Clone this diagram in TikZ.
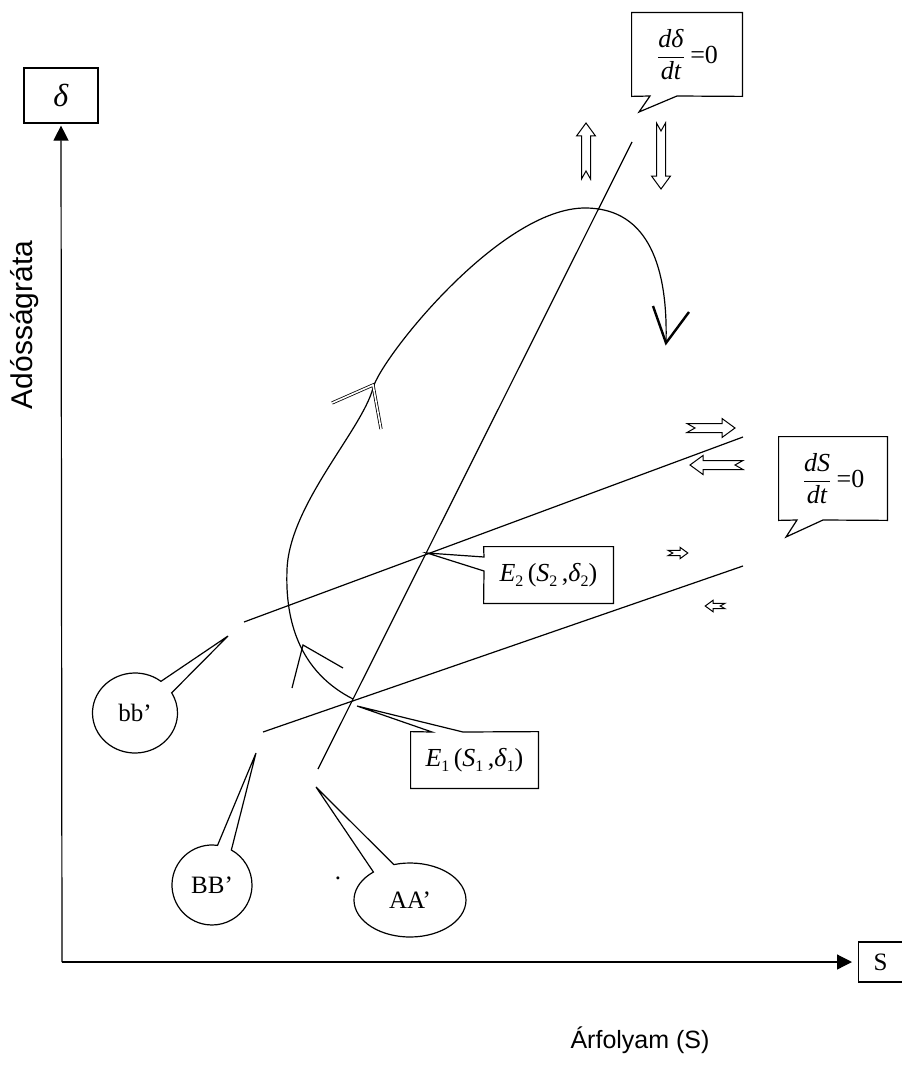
\documentclass[tikz,border=0pt]{standalone}
\usepackage{amsmath}
\usepackage{fontspec}
\setmainfont{Liberation Serif}
\newfontfamily\arialfont{Liberation Sans}
\usetikzlibrary{arrows.meta,shapes.geometric,shapes.callouts}

% lowered index in the text font
\newcommand{\lowidx}[1]{\raisebox{-0.45ex}{\fontsize{8}{8}\selectfont #1}}

\tikzset{
  % hollow block arrow with a notched tail, drawn along +x
  pics/fatarrow/.style={code={
    \draw[line width=0.5pt, fill=white] (0,-4.5) -- ({#1-13},-4.5) -- ({#1-13},-9.5) -- (#1,0)
      -- ({#1-13},9.5) -- ({#1-13},4.5) -- (0,4.5) -- (8,0) -- cycle;
  }}
}

\begin{document}
\begin{tikzpicture}[x=0.5pt, y=-0.5pt,
        every node/.style={inner sep=0pt, font=\fontsize{12.5}{14}\selectfont},
        axis/.style={line width=0.6pt, -{Triangle[width=7.5pt,length=7.5pt]}},
        thinline/.style={line width=0.6pt},
        boxed/.style={draw, line width=0.6pt},
        bubble/.style={ellipse callout, draw, line width=0.6pt},
        formula/.style={font=\fontsize{13}{15}\selectfont},
        label/.style={font=\arialfont\fontsize{12.5}{14}\selectfont}
        ]
    \useasboundingbox (0,0) rectangle (901,1065);

    % Axes
    \coordinate (origin) at (62,962);
    \node[boxed, minimum width=37pt, minimum height=27.5pt, font=\fontsize{16}{18}\selectfont]
        (dbox) at (61,95.5) {\textit{δ}};
    \node[boxed, minimum width=22pt, minimum height=20pt, anchor=west] (sbox) at (858,962) {S};
    \draw[axis, shorten >=1pt] (origin) -- (dbox.south);
    \draw[axis, shorten >=3pt] (origin) -- (sbox.west);
    \node[label, rotate=90, font=\arialfont\fontsize{15}{17}\selectfont] (ylab) at (25,325) {Adósságráta};
    \node[label] (xlab) at (640,1040) {Árfolyam (S)};

    % Curves AA', BB' and bb'
    \coordinate (a1) at (318,769);
    \coordinate (a2) at (632,142);
    \coordinate (b1) at (263,732);
    \coordinate (b2) at (743,566);
    \coordinate (c1) at (244,622);
    \coordinate (c2) at (743,437);
    \coordinate (e1) at (353,700);
    \coordinate (e2) at (427,553);
    \draw[thinline] (a1) -- (a2);
    \draw[thinline] (b1) -- (b2);
    \draw[thinline] (c1) -- (c2);

    % Adjustment path
    \draw[thinline] (353,699) .. controls (300,672) and (285,622) .. (287,570)
        .. controls (289,505) and (362,430) .. (373,388)
        .. controls (381,358) and (500,208) .. (585,208)
        .. controls (650,208) and (668,270) .. (666,343);
    \draw[line width=0.4pt, double, double distance=0.8pt] (332,403) -- (373,385) -- (381,429);
    \draw[thinline] (292,688) -- (303,645) -- (343,668);
    \draw[line width=1.2pt] (653,306) -- (666,343) -- (689,312);

    % Moving directions
    \pic[rotate=90] at (586,179) {fatarrow=56};
    \pic[rotate=-90] at (661,123) {fatarrow=66};
    \pic at (687,428) {fatarrow=48};
    \pic[rotate=180] at (743,465) {fatarrow=53};
    \pic[scale=0.6] at (668,553) {fatarrow=33};
    \pic[rotate=180, scale=0.6] at (725,606) {fatarrow=33};

    % Rectangular callouts
    \node[formula, minimum width=55pt, minimum height=41.5pt] (ddt) at (687,54.5)
        {$\dfrac{\textit{dδ}}{\textit{dt}}$\,=0};
    \draw[thinline] (ddt.north west) -- (ddt.north east) -- (ddt.south east) -- (677,96)
        -- (639,112) -- (650,96) -- (ddt.south west) -- cycle;
    \node[formula, minimum width=54pt, minimum height=41.5pt] (dsdt) at (833,478.5)
        {$\dfrac{\textit{dS}}{\textit{dt}}$\,=0};
    \draw[thinline] (dsdt.north west) -- (dsdt.north east) -- (dsdt.south east) -- (823,520)
        -- (786,537) -- (797,520) -- (dsdt.south west) -- cycle;
    \node[formula, minimum width=64.5pt, minimum height=28pt] (eq2) at (548.5,575)
        {\textit{E}\lowidx{2}\,(\textit{S}\lowidx{2}\,,\textit{δ}\lowidx{2})};
    \draw[thinline] (eq2.north west) -- (eq2.north east) -- (eq2.south east) -- (eq2.south west)
        -- (484,571) -- (e2) -- (484,557) -- cycle;
    \node[formula, minimum width=63.5pt, minimum height=28pt] (eq1) at (474.5,760)
        {\textit{E}\lowidx{1}\,(\textit{S}\lowidx{1}\,,\textit{δ}\lowidx{1})};
    \draw[thinline] (eq1.north west) -- (432,732) -- (357,706) -- (463,732) -- (eq1.north east)
        -- (eq1.south east) -- (eq1.south west) -- cycle;

    % Round callouts
    \node[bubble, minimum width=42.5pt, minimum height=40pt, callout pointer arc=22,
        callout absolute pointer={(228,636)}] (bb) at (135,713) {bb’};
    \node[bubble, minimum width=40pt, minimum height=40pt, callout pointer arc=21,
        callout absolute pointer={(256,753)}] (BB) at (212,885) {BB’};
    \node[bubble, minimum width=56pt, minimum height=37pt, callout pointer arc=24,
        callout absolute pointer={(316,787)}] (AA) at (410,900) {AA’};
    \node (dot) at (338,878) {.};
\end{tikzpicture}
\end{document}
